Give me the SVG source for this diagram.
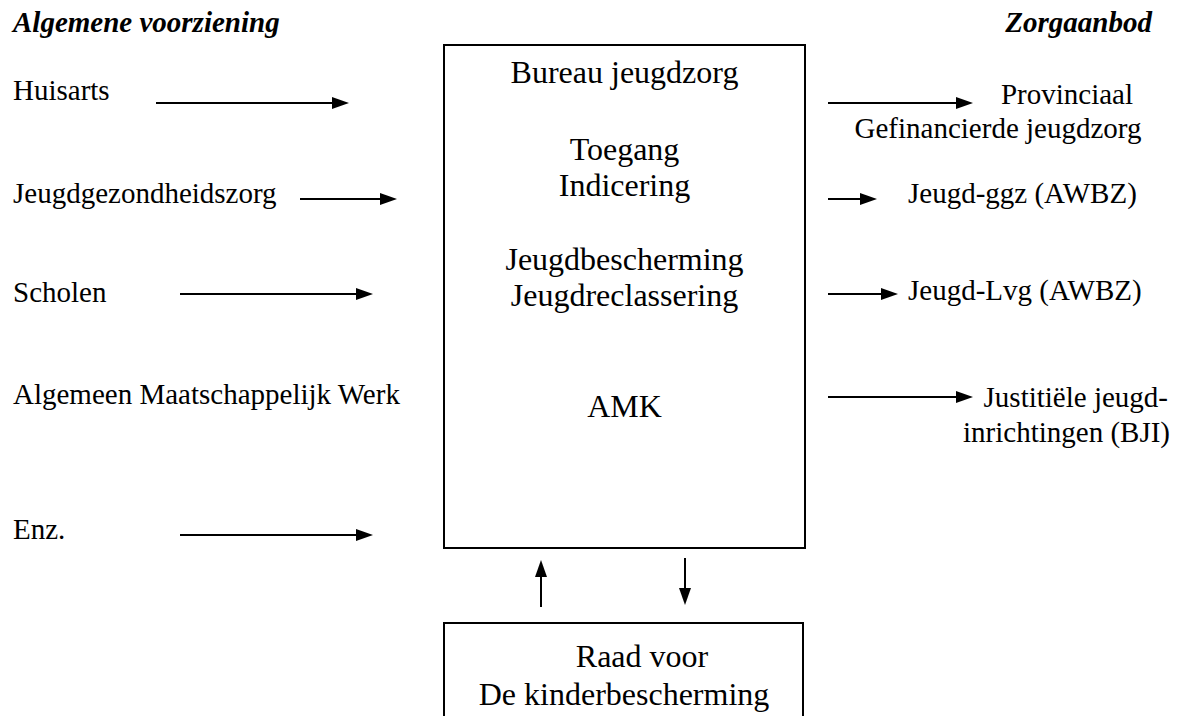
<svg xmlns="http://www.w3.org/2000/svg" width="1178" height="716" viewBox="0 0 1178 716">
<style>
.box{fill:#fff;stroke:#000;stroke-width:2}
.c{stroke:#000;stroke-width:2;fill:none}
.hd{fill:#000;stroke:none}
</style>
<rect width="1178" height="716" fill="#fff"/>
<text font-family="Liberation Serif" font-size="29" font-weight="bold" font-style="italic" x="13" y="32">Algemene voorziening</text>
<text font-family="Liberation Serif" font-size="29" font-weight="bold" font-style="italic" x="1152" y="32" text-anchor="end">Zorgaanbod</text>
<g id="huisarts"><text font-family="Liberation Serif" font-size="29" x="13" y="100">Huisarts</text></g>
<g id="jgz"><text font-family="Liberation Serif" font-size="29" x="13" y="203">Jeugdgezondheidszorg</text></g>
<g id="scholen"><text font-family="Liberation Serif" font-size="29" x="13" y="302">Scholen</text></g>
<g id="amw"><text font-family="Liberation Serif" font-size="29" x="13" y="404">Algemeen Maatschappelijk Werk</text></g>
<g id="enz"><text font-family="Liberation Serif" font-size="29" x="13" y="539">Enz.</text></g>
<g id="bjz">
<rect class="box" x="444" y="45" width="361" height="503"/>
<text font-family="Liberation Serif" font-size="32" text-anchor="middle" x="624.5" y="83">Bureau jeugdzorg</text>
<text font-family="Liberation Serif" font-size="32" text-anchor="middle" x="624.5" y="160">Toegang</text>
<text font-family="Liberation Serif" font-size="32" text-anchor="middle" x="624.5" y="196">Indicering</text>
<text font-family="Liberation Serif" font-size="32" text-anchor="middle" x="624.5" y="270">Jeugdbescherming</text>
<text font-family="Liberation Serif" font-size="32" text-anchor="middle" x="624.5" y="306">Jeugdreclassering</text>
<text font-family="Liberation Serif" font-size="32" text-anchor="middle" x="624.5" y="417">AMK</text>
</g>
<g id="raad">
<rect class="box" x="444" y="623" width="359" height="120"/>
<text font-family="Liberation Serif" font-size="32" text-anchor="middle" x="642" y="667">Raad voor</text>
<text font-family="Liberation Serif" font-size="32" text-anchor="middle" x="624" y="705">De kinderbescherming</text>
</g>
<g id="provinciaal">
<text font-family="Liberation Serif" font-size="29" x="1067" y="104" text-anchor="middle">Provinciaal</text>
<text font-family="Liberation Serif" font-size="29" x="998" y="138" text-anchor="middle">Gefinancierde jeugdzorg</text>
</g>
<g id="ggz"><text font-family="Liberation Serif" font-size="29" x="908" y="203">Jeugd-ggz (AWBZ)</text></g>
<g id="lvg"><text font-family="Liberation Serif" font-size="29" x="908" y="300">Jeugd-Lvg (AWBZ)</text></g>
<g id="bji">
<text font-family="Liberation Serif" font-size="29" x="1168" y="407" text-anchor="end">Justitiële jeugd-</text>
<text font-family="Liberation Serif" font-size="29" x="1170" y="442" text-anchor="end">inrichtingen (BJI)</text>
</g>
<g id="connectors">
<path class="c" d="M156,103H335M300,199H384M180,294H360M180,535H360M828,103H960M828,199H864M828,294H885M828,397H960M541,607V573M685,558V592"/>
<path class="hd" d="M332,97L349,103L332,109Z"/>
<path class="hd" d="M380,193L397,199L380,205Z"/>
<path class="hd" d="M356,288L373,294L356,300Z"/>
<path class="hd" d="M356,529L373,535L356,541Z"/>
<path class="hd" d="M956,97L973,103L956,109Z"/>
<path class="hd" d="M860,193L877,199L860,205Z"/>
<path class="hd" d="M881,288L898,294L881,300Z"/>
<path class="hd" d="M956,391L973,397L956,403Z"/>
<path class="hd" d="M535,577L541,560L547,577Z"/>
<path class="hd" d="M679,588L685,605L691,588Z"/>
</g>
</svg>
